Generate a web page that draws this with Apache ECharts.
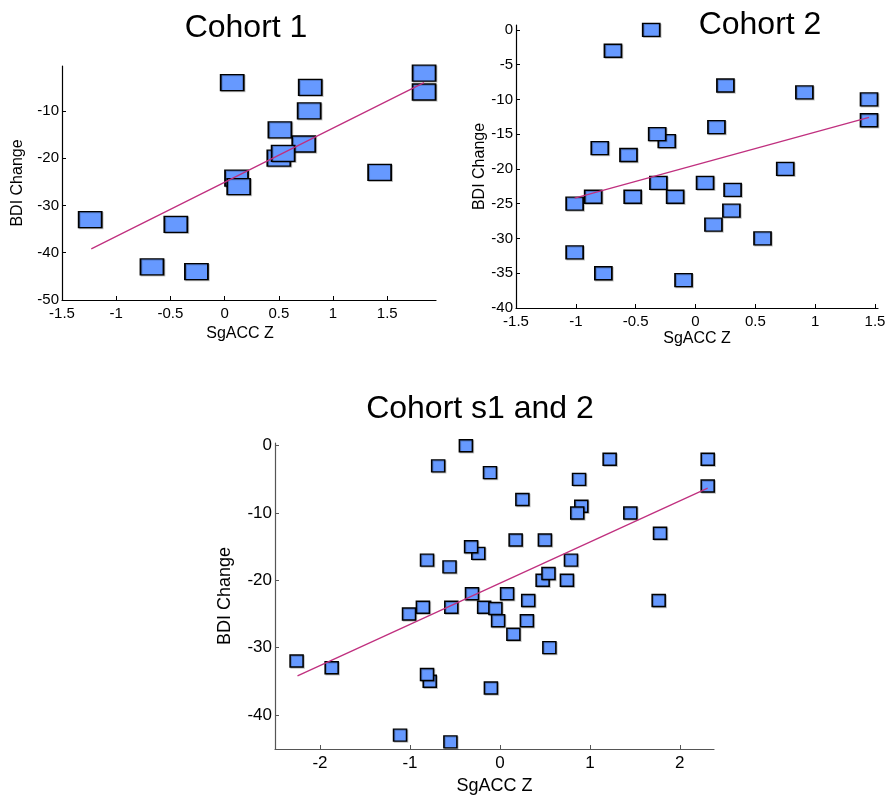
<!DOCTYPE html>
<html>
<head>
<meta charset="utf-8">
<script src="https://cdn.jsdelivr.net/npm/echarts@6/dist/echarts.min.js"></script>
<style>html,body{margin:0;padding:0;background:#fff}#c{width:892px;height:804px}</style>
</head>
<body>
<div id="c"></div>
<script>
// ---- Data ----
const titles = ['Cohort 1', 'Cohort 2', 'Cohort s1 and 2'];
const xName = 'SgACC Z';
const yName = 'BDI Change';

// Cohort 1
const c1X = [0.07, 1.84, 1.84, 0.79, 0.78, 0.51, 0.73, 0.50, 0.54, 0.11, 0.13, 1.43, -1.24, -0.45, -0.67, -0.26];
const c1Y = [-4, -2, -6, -5, -10, -14, -17, -20, -19, -24.2, -26, -23, -33, -34, -43, -44];
const fit1X = [-1.23, 1.84];
const fit1Y = [-39.2, -4.0];
const x1Ticks = [-1.5, -1, -0.5, 0, 0.5, 1, 1.5];
const y1Ticks = [-50, -40, -30, -20, -10];

// Cohort 2
const c2X = [-0.37, -0.69, 0.25, 0.91, 1.45, 1.45, 0.175, -0.24, -0.32, -0.80, -0.56, 0.75, -0.31, 0.08, 0.31, -0.855, -0.525, -0.17, -1.01, 0.30, 0.15, 0.56, -1.01, -0.77, -0.10];
const c2Y = [0, -3, -8, -9, -10, -13, -14, -16, -15, -17, -18, -20, -22, -22, -23, -24, -24, -24, -25, -26, -28, -30, -32, -35, -36];
const fit2X = [-1.01, 1.45];
const fit2Y = [-24.2, -12.6];
const x2Ticks = [-1.5, -1, -0.5, 0, 0.5, 1, 1.5];
const y2Ticks = [-40, -35, -30, -25, -20, -15, -10, -5, 0];

// Cohorts 1 and 2 combined
const c3X = [-0.378, -0.686, -0.11, 1.22, 2.31, 2.31, 0.88, 0.25, 0.905, 0.86, 1.45, 1.78, 0.175, 0.50, -0.24, -0.32, -0.81, -0.56, 0.79, 0.475, 0.54, 0.745, -0.31, 0.08, 0.315, 1.765, -0.856, -0.54, -0.175, -0.05, -1.01, -0.02, 0.30, 0.15, 0.55, -2.26, -1.87, -0.78, -0.81, -0.10, -1.11, -0.55];
const c3Y = [0, -3, -4, -2, -2, -6, -5, -8, -9, -10, -10, -13, -14, -14, -16, -15, -17, -18, -17, -20, -19, -20, -22, -22, -23, -23, -24, -24, -24, -24.2, -25, -26, -26, -28, -30, -32, -33, -35, -34, -36, -43, -44];
const fit3X = [-2.25, 2.31];
const fit3Y = [-34.2, -6.3];
const x3Ticks = [-2, -1, 0, 1, 2];
const y3Ticks = [-40, -30, -20, -10, 0];

// ---- Helpers ----
const FONT = 'Liberation Sans, Arial, Helvetica, sans-serif';
const zip = (xs, ys) => xs.map((x, i) => [x, ys[i]]);

function xAx(gi, min, max, ticks, fs, col, nameGap, namePad, nfs) {
  return {
    gridIndex: gi, type: 'value', min: min, max: max,
    name: xName, nameLocation: 'middle', nameGap: nameGap,
    nameTextStyle: { fontFamily: FONT, fontSize: nfs, color: '#000', padding: namePad },
    axisLine: { show: true, onZero: false, lineStyle: { color: col, width: 1.2 } },
    axisTick: { show: true, inside: true, length: 4, lineStyle: { color: col }, customValues: ticks },
    axisLabel: { fontFamily: FONT, fontSize: fs, color: '#000', margin: 6, customValues: ticks },
    splitLine: { show: false }
  };
}
function yAx(gi, min, max, ticks, fs, col, nameGap, nfs) {
  return {
    gridIndex: gi, type: 'value', min: min, max: max,
    name: yName, nameLocation: 'middle', nameGap: nameGap,
    nameTextStyle: { fontFamily: FONT, fontSize: nfs, color: '#000' },
    axisLine: { show: true, onZero: false, lineStyle: { color: col, width: 1.2 } },
    axisTick: { show: true, inside: true, length: 4, lineStyle: { color: col }, customValues: ticks },
    axisLabel: { fontFamily: FONT, fontSize: fs, color: '#000', margin: 3, customValues: ticks },
    splitLine: { show: false }
  };
}
function scat(gi, xs, ys, size) {
  return {
    type: 'scatter', xAxisIndex: gi, yAxisIndex: gi, data: zip(xs, ys),
    symbol: 'rect', symbolSize: size, z: 2,
    itemStyle: { color: '#6699ff', borderColor: '#000', borderWidth: 1.5, opacity: 1,
                 shadowColor: 'rgba(0,0,0,0.22)', shadowOffsetX: 1, shadowOffsetY: 1, shadowBlur: 0 },
    emphasis: { disabled: true }, animation: false
  };
}
function fit(gi, xs, ys) {
  return {
    type: 'line', xAxisIndex: gi, yAxisIndex: gi, data: zip(xs, ys),
    symbol: 'none', z: 5, lineStyle: { color: '#c0307f', width: 1.3 }, animation: false
  };
}

const TS = { fontFamily: FONT, fontSize: 32, fontWeight: 'normal', color: '#000' };
const chart = echarts.init(document.getElementById('c'), null, { renderer: 'canvas' });
chart.setOption({
  backgroundColor: '#fff',
  animation: false,
  title: [
    { text: titles[0], left: 241, top: 7, textAlign: 'center', textStyle: TS },
    { text: titles[1], left: 755, top: 4, textAlign: 'center', textStyle: TS },
    { text: titles[2], left: 475, top: 388, textAlign: 'center', textStyle: TS }
  ],
  grid: [
    { left: 62, top: 66, width: 374, height: 234 },
    { left: 516, top: 25, width: 362, height: 283 },
    { left: 275, top: 443, width: 439, height: 306 }
  ],
  xAxis: [
    xAx(0, -1.5, 1.95, x1Ticks, 15, '#000', 26, [0, 18, 0, 0], 16),
    xAx(1, -1.5, 1.525, x2Ticks, 15, '#000', 23, [0, 0, 0, 0], 16),
    xAx(2, -2.5, 2.38, x3Ticks, 17, '#555', 28, [0, 0, 0, 0], 18)
  ],
  yAxis: [
    yAx(0, -50, -0.5, y1Ticks, 15, '#000', 36, 16),
    yAx(1, -40, 0.7, y2Ticks, 15, '#000', 28, 16),
    yAx(2, -45.06, 0.4, y3Ticks, 17, '#555', 41, 18)
  ],
  series: [
    scat(0, c1X, c1Y, [23, 16]), fit(0, fit1X, fit1Y),
    scat(1, c2X, c2Y, [17, 13]), fit(1, fit2X, fit2Y),
    scat(2, c3X, c3Y, [13, 12]), fit(2, fit3X, fit3Y)
  ]
});
</script>
</body>
</html>
